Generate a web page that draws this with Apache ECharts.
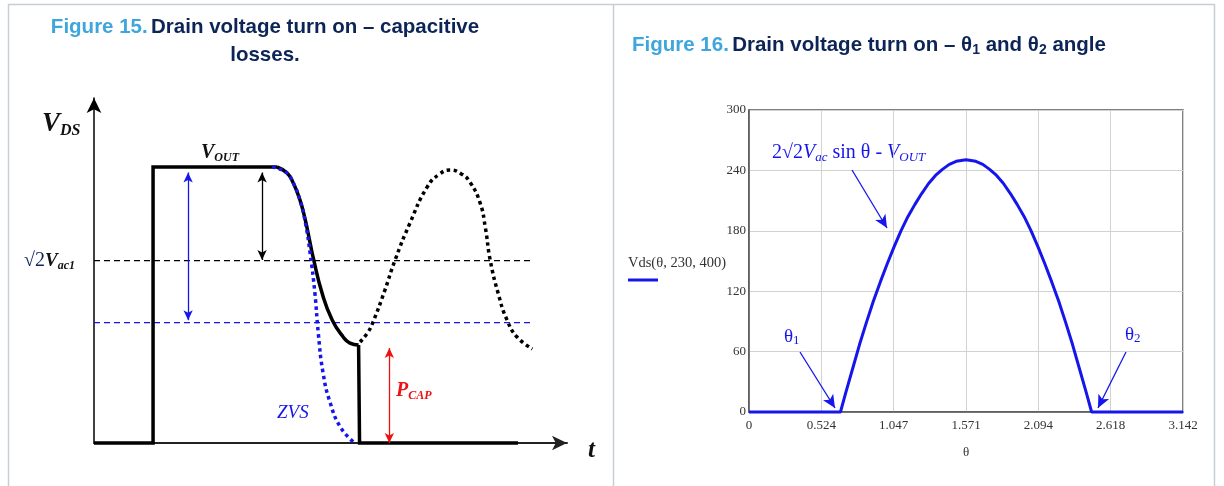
<!DOCTYPE html>
<html><head><meta charset="utf-8">
<script src="https://cdn.jsdelivr.net/npm/echarts@6/dist/echarts.min.js"></script>
<style>html,body{margin:0;padding:0;background:#fff}#c{width:1224px;height:486px}</style>
</head><body><div id="c"></div>
<script>
// ---------- Figure 15 (schematic; t in arbitrary units, V normalised so V_OUT = 1) ----------
const fig15On = [[0,0],[12.3,0],[12.3,1],[38.1,1]];
const fig15Fall = [[38.1,1],[40.2,0.978],[41.5,0.942],[42.9,0.88],[44.0,0.808],[45.0,0.725],[45.6,0.675],[47.5,0.543],[49.6,0.446],[51.9,0.384],[53.3,0.362],[55.1,0.355]];
const fig15Off = [[55.1,0.355],[55.3,0.355],[55.3,0],[88.3,0]];
const fig15Zvs = [[37.1,1],[38.1,0.996],[40.2,0.978],[41.5,0.942],[42.9,0.88],[44.0,0.8],[45.0,0.688],[46.0,0.543],[46.7,0.399],[47.7,0.254],[49.2,0.145],[51.3,0.058],[54.0,0.004]];
const fig15Resonance = [[55.4,0.366],[57.0,0.40],[58.1,0.438],[60.5,0.55],[62.7,0.663],[65.8,0.797],[69.4,0.928],[72.0,0.975],[74.2,0.989],[76.5,0.975],[78.3,0.945],[80.4,0.87],[81.5,0.78],[82.5,0.663],[84.2,0.54],[86.0,0.446],[88.1,0.384],[91.3,0.341]];
const fig15Vac1Level = 0.661;      // √2·Vac1
const fig15DiffLevel = 0.436;      // blue dashed level
const fig15LevelEnd = 91.3;
const fig15ArrowBlue = [19.6, 0.98, 0.445];
const fig15ArrowBlack = [35.0, 0.98, 0.663];
const fig15ArrowRed = [61.5, 0.344, 0];

// ---------- Figure 16: Vds(θ, 230, 400) ----------
const thetaTicks = [0, 0.524, 1.047, 1.571, 2.094, 2.618, 3.142];
const vdsTicks = [0, 60, 120, 180, 240, 300];
const theta = [0, 0.662, 0.70, 0.75, 0.80, 0.85, 0.90, 0.95, 1.00, 1.05, 1.10, 1.15, 1.20, 1.25, 1.30, 1.35, 1.40, 1.45, 1.50, 1.571, 1.642, 1.692, 1.742, 1.792, 1.842, 1.892, 1.942, 1.992, 2.042, 2.092, 2.142, 2.192, 2.242, 2.292, 2.342, 2.392, 2.442, 2.480, 3.142];
const vds =   [0, 0,     19,   43,   67,   89,   110,  129,  147,  164,  180,  194,  206,  217,  227,  235,  241,  246,  249,  250.5, 249,   246,   241,   235,   227,   217,   206,   194,   180,   164,   147,   129,   110,   89,    67,    43,    19,    0,     0];

const BLUE = '#1616ec';
const RED = '#ee1111';
const NAVY = '#0c2456';
const LBLUE = '#3ea6dc';
const SERIF = '"Liberation Serif","DejaVu Serif",serif';
const SANS = '"Liberation Sans",Arial,sans-serif';

const chart = echarts.init(document.getElementById('c'), null, {renderer:'canvas'});

function tok(o){ if (o.color) o.fill = o.color; return o; }
function richOf(obj){ const r = {}; for (const k in obj) r[k] = tok(Object.assign({}, obj[k])); return r; }
function txt(x, y, text, rich, align) {
  return {type:'text', x:x, y:y, silent:true, style:{
    text:text, rich:richOf(rich), align:align||'left', textAlign:align||'left',
    verticalAlign:'middle', textVerticalAlign:'middle'}};
}
function hline(x1,y1,x2,y2,stroke,w){return {type:'line',silent:true,shape:{x1,y1,x2,y2},style:{stroke:stroke,lineWidth:w}};}

const TS = 20.5;
const titleRich = {
  a:{fontFamily:SANS,fontWeight:'bold',fontSize:TS,color:LBLUE,lineHeight:24},
  b:{fontFamily:SANS,fontWeight:'bold',fontSize:TS,color:NAVY,lineHeight:24},
  s:{fontFamily:SANS,fontWeight:'bold',fontSize:14,color:NAVY,lineHeight:8,verticalAlign:'bottom'}
};
function sub(font, size, color, extra){ return Object.assign({fontFamily:SERIF, fontSize:size, color:color, lineHeight:8, verticalAlign:'bottom'}, extra||{}); }
function main(size, color, extra){ return Object.assign({fontFamily:SERIF, fontSize:size, color:color, lineHeight:size+2}, extra||{}); }
const BI = {fontStyle:'italic', fontWeight:'bold'};
const IT = {fontStyle:'italic'};

function mk(p1, p2, color, symbols) {
  return [{coord:p1, symbol: symbols ? symbols[0] : undefined, lineStyle:{color:color,width:1.3,type:'solid'}, itemStyle:{color:color}},
          {coord:p2, symbol: symbols ? symbols[1] : undefined, lineStyle:{color:color,width:1.3,type:'solid'}, itemStyle:{color:color}}];
}

const lvl = (v) => [[0, v], [fig15LevelEnd, v]];

const option = {
  animation:false,
  backgroundColor:'#fff',
  grid:[
    {left:94, top:98, width:473, height:345},
    {left:749, top:110, width:434, height:302, show:true, borderColor:'#555', borderWidth:1.5, backgroundColor:'transparent'}
  ],
  xAxis:[
    {gridIndex:0, type:'value', min:0, max:98.5, axisLine:{show:true, onZero:false, symbol:['none','arrow'], symbolSize:[11,15], lineStyle:{color:'#222', width:2}}, axisTick:{show:false}, axisLabel:{show:false}, splitLine:{show:false}},
    {gridIndex:1, type:'value', min:0, max:3.1416, interval:0.5236,
      axisLine:{show:true, lineStyle:{color:'#555', width:1.5}}, axisTick:{show:false},
      axisLabel:{margin:7, color:'#333', fontFamily:SERIF, fontSize:13, formatter:(v)=> v===0 ? '0' : v.toFixed(3)},
      splitLine:{show:true, lineStyle:{color:'#d2d2d2', width:1}},
      name:'θ', nameLocation:'middle', nameGap:34, nameTextStyle:{color:'#333', fontFamily:SERIF, fontSize:13}}
  ],
  yAxis:[
    {gridIndex:0, type:'value', min:0, max:1.25, axisLine:{show:true, onZero:false, symbol:['none','arrow'], symbolSize:[11,15], lineStyle:{color:'#000', width:1.5}}, axisTick:{show:false}, axisLabel:{show:false}, splitLine:{show:false}},
    {gridIndex:1, type:'value', min:0, max:300, interval:60,
      axisLine:{show:true, lineStyle:{color:'#555', width:1.5}}, axisTick:{show:false},
      axisLabel:{margin:3, color:'#333', fontFamily:SERIF, fontSize:13},
      splitLine:{show:true, lineStyle:{color:'#d2d2d2', width:1}}}
  ],
  series:[
    // dashed reference levels
    {type:'line', xAxisIndex:0, yAxisIndex:0, data:lvl(fig15Vac1Level), showSymbol:false, silent:true, lineStyle:{color:'#000', width:1.3, type:[6,4]}},
    {type:'line', xAxisIndex:0, yAxisIndex:0, data:lvl(fig15DiffLevel), showSymbol:false, silent:true, lineStyle:{color:BLUE, width:1.4, type:[6,4]}},
    // waveform
    {type:'line', xAxisIndex:0, yAxisIndex:0, data:fig15On, showSymbol:false, silent:true, clip:false, lineStyle:{color:'#000', width:3.5, join:'miter'},
      markLine:{silent:true, animation:false, symbol:['arrow','arrow'], symbolSize:[7,10], label:{show:false},
        data:[
          mk([fig15ArrowBlue[0], fig15ArrowBlue[1]], [fig15ArrowBlue[0], fig15ArrowBlue[2]], BLUE),
          mk([fig15ArrowBlack[0], fig15ArrowBlack[1]], [fig15ArrowBlack[0], fig15ArrowBlack[2]], '#000'),
          mk([fig15ArrowRed[0], fig15ArrowRed[1]], [fig15ArrowRed[0], fig15ArrowRed[2]], RED)
        ]}},
    {type:'line', xAxisIndex:0, yAxisIndex:0, data:fig15Fall, showSymbol:false, silent:true, smooth:0.5, clip:false, lineStyle:{color:'#000', width:3.5}},
    {type:'line', xAxisIndex:0, yAxisIndex:0, data:fig15Off, showSymbol:false, silent:true, clip:false, lineStyle:{color:'#000', width:3.5, join:'miter'}},
    {type:'line', xAxisIndex:0, yAxisIndex:0, data:fig15Resonance, showSymbol:false, silent:true, smooth:0.5, lineStyle:{color:'#000', width:3.5, type:[3.5,3.5], cap:'butt'}},
    {type:'line', xAxisIndex:0, yAxisIndex:0, data:fig15Zvs, showSymbol:false, silent:true, smooth:0.5, lineStyle:{color:BLUE, width:3.5, type:[3.5,3.5], cap:'butt'}},
    // Figure 16 curve
    {type:'line', name:'Vds(θ, 230, 400)', xAxisIndex:1, yAxisIndex:1, data:theta.map((t,i)=>[t, vds[i]]), showSymbol:false, silent:true, clip:false,
      lineStyle:{color:BLUE, width:3},
      markLine:{silent:true, animation:false, symbol:['none','arrow'], symbolSize:[9,13], label:{show:false},
        data:[
          mk([0.7456, 240.4], [0.999, 182.8], BLUE, ['none','arrow']),
          mk([0.369, 59.6], [0.6225, 4.0], BLUE, ['none','arrow']),
          mk([2.729, 59.6], [2.526, 4.0], BLUE, ['none','arrow'])
        ]}}
  ],
  graphic:[
    // panel frames
    hline(8, 4.5, 1214, 4.5, '#c6ced4', 1.5),
    hline(8.5, 4, 8.5, 486, '#c6ced4', 1.5),
    hline(613.5, 4, 613.5, 486, '#c6ced4', 1.5),
    hline(1214.5, 4, 1214.5, 486, '#c6ced4', 1.5),
    // titles
    txt(265, 27, '{a|Figure 15.} {b|Drain voltage turn on – capacitive}', titleRich, 'center'),
    txt(265, 55, '{b|losses.}', titleRich, 'center'),
    txt(632, 45, '{a|Figure 16.} {b|Drain voltage turn on – θ}{s|1}{b| and θ}{s|2}{b| angle}', titleRich, 'left'),
    // Figure 15 labels
    txt(42, 124, '{v|V}{s|DS}', {v:main(27,'#111',BI), s:sub(SERIF,16,'#111',BI)}),
    txt(201, 153, '{v|V}{s|OUT}', {v:main(20,'#111',BI), s:sub(SERIF,12,'#111',BI)}),
    txt(24, 261, '{r|√2}{v|V}{s|ac1}', {r:main(20,NAVY), v:main(19,'#111',BI), s:sub(SERIF,12,'#111',BI)}),
    txt(277, 413, '{z|ZVS}', {z:main(19,BLUE,IT)}),
    txt(396, 391, '{v|P}{s|CAP}', {v:main(20,RED,BI), s:sub(SERIF,12,RED,BI)}),
    txt(588, 451, '{t|t}', {t:main(25,'#111',BI)}),
    // Figure 16 labels
    txt(772, 153, '{n|2√2}{v|V}{s|ac}{n| sin θ - }{v|V}{s|OUT}', {n:main(20,BLUE), v:main(20,BLUE,IT), s:sub(SERIF,13,BLUE,IT)}),
    txt(784, 337, '{n|θ}{s|1}', {n:main(19,BLUE), s:sub(SERIF,13,BLUE)}),
    txt(1125, 335, '{n|θ}{s|2}', {n:main(19,BLUE), s:sub(SERIF,13,BLUE)}),
    // legend of Figure 16
    txt(628, 263, '{l|Vds(θ, 230, 400)}', {l:main(14.5,'#333')}),
    hline(628, 280, 658, 280, BLUE, 3)
  ]
};
chart.setOption(option);
</script></body></html>
